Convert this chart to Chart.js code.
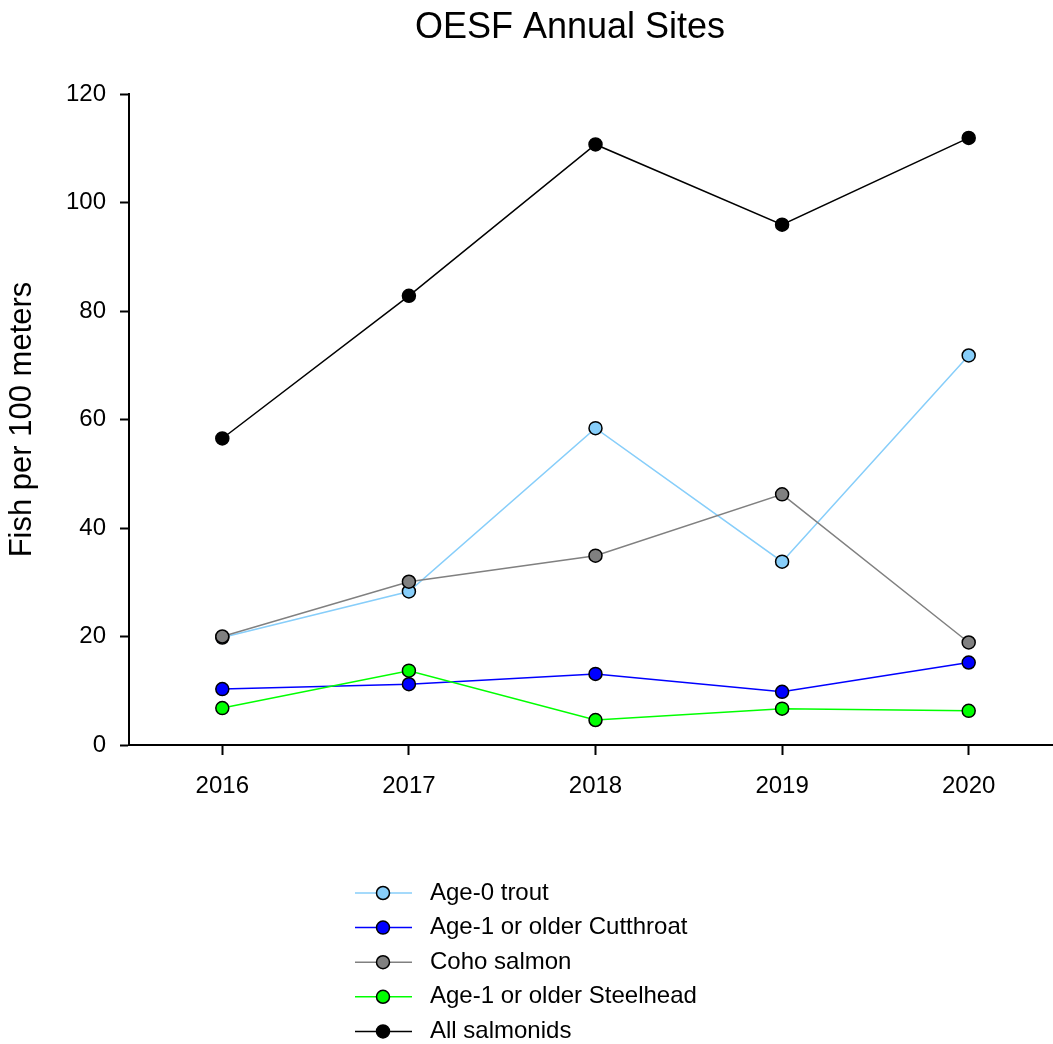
<!DOCTYPE html>
<html>
<head>
<meta charset="utf-8">
<title>OESF Annual Sites</title>
<script src="https://cdn.jsdelivr.net/npm/chart.js@4/dist/chart.umd.min.js"></script>
<style>
  html, body { margin: 0; padding: 0; background: #fff; overflow: hidden; }
  #wrap { width: 1062px; height: 1044px; }
</style>
</head>
<body>
<div id="wrap"><canvas id="chart" width="1062" height="1044"></canvas></div>
<script>
// Survey years
const years = ['2016', '2017', '2018', '2019', '2020'];

// Fish per 100 meters, by group
const age0Trout      = [19.8, 28.3, 58.4, 33.8, 71.8];
const cutthroat      = [10.3, 11.2, 13.1, 9.8, 15.2];
const cohoSalmon     = [20.0, 30.1, 34.9, 46.2, 18.9];
const steelhead      = [6.8, 13.7, 4.6, 6.7, 6.3];
const allSalmonids   = [56.5, 82.8, 110.7, 95.9, 111.9];

// Y axis ticks
const yTicks = [0, 20, 40, 60, 80, 100, 120];

const FONT = '"Liberation Sans", Arial, Helvetica, sans-serif';

function series(label, data, color) {
  return {
    label: label,
    data: data,
    borderColor: color,
    backgroundColor: color,
    borderWidth: 1.5,
    pointRadius: 6.5,
    pointHoverRadius: 6.5,
    pointBackgroundColor: color,
    pointBorderColor: '#000',
    pointBorderWidth: 1.5,
    tension: 0
  };
}

// Draw order: the all-salmonids line stays on top
const datasets = [
  series('Age-0 trout', age0Trout, '#87CEFA'),
  series('Age-1 or older Cutthroat', cutthroat, '#0000FF'),
  series('Coho salmon', cohoSalmon, '#808080'),
  series('Age-1 or older Steelhead', steelhead, '#00FF00'),
  series('All salmonids', allSalmonids, '#000000')
];
datasets.forEach((d, i) => { d.order = datasets.length - i; });

// Title and the line-and-marker legend under the plot
const decorations = {
  id: 'decorations',
  afterDraw(chart) {
    const ctx = chart.ctx;
    ctx.save();
    ctx.fillStyle = '#000';
    ctx.font = '36px ' + FONT;
    ctx.textAlign = 'center';
    ctx.textBaseline = 'alphabetic';
    ctx.fillText('OESF Annual Sites', 570, 38);

    const x0 = 355, x1 = 412, xm = 383, tx = 430;
    const yStart = 893, step = 34.6;
    chart.data.datasets.forEach((ds, i) => {
      const y = yStart + i * step;
      ctx.strokeStyle = ds.borderColor;
      ctx.lineWidth = 1.5;
      ctx.beginPath();
      ctx.moveTo(x0, y);
      ctx.lineTo(x1, y);
      ctx.stroke();
      ctx.beginPath();
      ctx.arc(xm, y, 6.5, 0, Math.PI * 2);
      ctx.fillStyle = ds.pointBackgroundColor;
      ctx.fill();
      ctx.strokeStyle = '#000';
      ctx.lineWidth = 1.5;
      ctx.stroke();
      ctx.fillStyle = '#000';
      ctx.font = '24px ' + FONT;
      ctx.textAlign = 'left';
      ctx.textBaseline = 'middle';
      ctx.fillText(ds.label, tx, y);
    });
    ctx.restore();
  }
};

new Chart(document.getElementById('chart'), {
  type: 'line',
  data: { labels: years, datasets: datasets },
  options: {
    responsive: false,
    animation: false,
    devicePixelRatio: 1,
    layout: { autoPadding: false, padding: { top: 94, left: 0, right: 0, bottom: 0 } },
    plugins: {
      legend: { display: false },
      title: { display: false },
      tooltip: { enabled: false }
    },
    scales: {
      x: {
        type: 'category',
        offset: true,
        border: { color: '#000', width: 2 },
        grid: { display: true, drawOnChartArea: false, drawTicks: true, tickLength: 10, tickColor: '#000', tickWidth: 2 },
        ticks: { color: '#000', font: { family: FONT, size: 24 }, padding: 17, maxRotation: 0 },
        afterFit(scale) { scale.height = 299; }
      },
      y: {
        type: 'linear',
        min: 0,
        max: 120,
        border: { color: '#000', width: 2 },
        grid: { display: true, drawOnChartArea: false, drawTicks: true, tickLength: 9, tickColor: '#000', tickWidth: 2 },
        afterBuildTicks(scale) { scale.ticks = yTicks.map(v => ({ value: v })); },
        ticks: { color: '#000', font: { family: FONT, size: 24 }, padding: 14 },
        title: {
          display: true,
          text: 'Fish per 100 meters',
          color: '#000',
          font: { family: FONT, size: 31 },
          padding: { top: 4, bottom: 0 }
        },
        afterFit(scale) { scale.width = 129; }
      }
    }
  },
  plugins: [decorations]
});
</script>
</body>
</html>
